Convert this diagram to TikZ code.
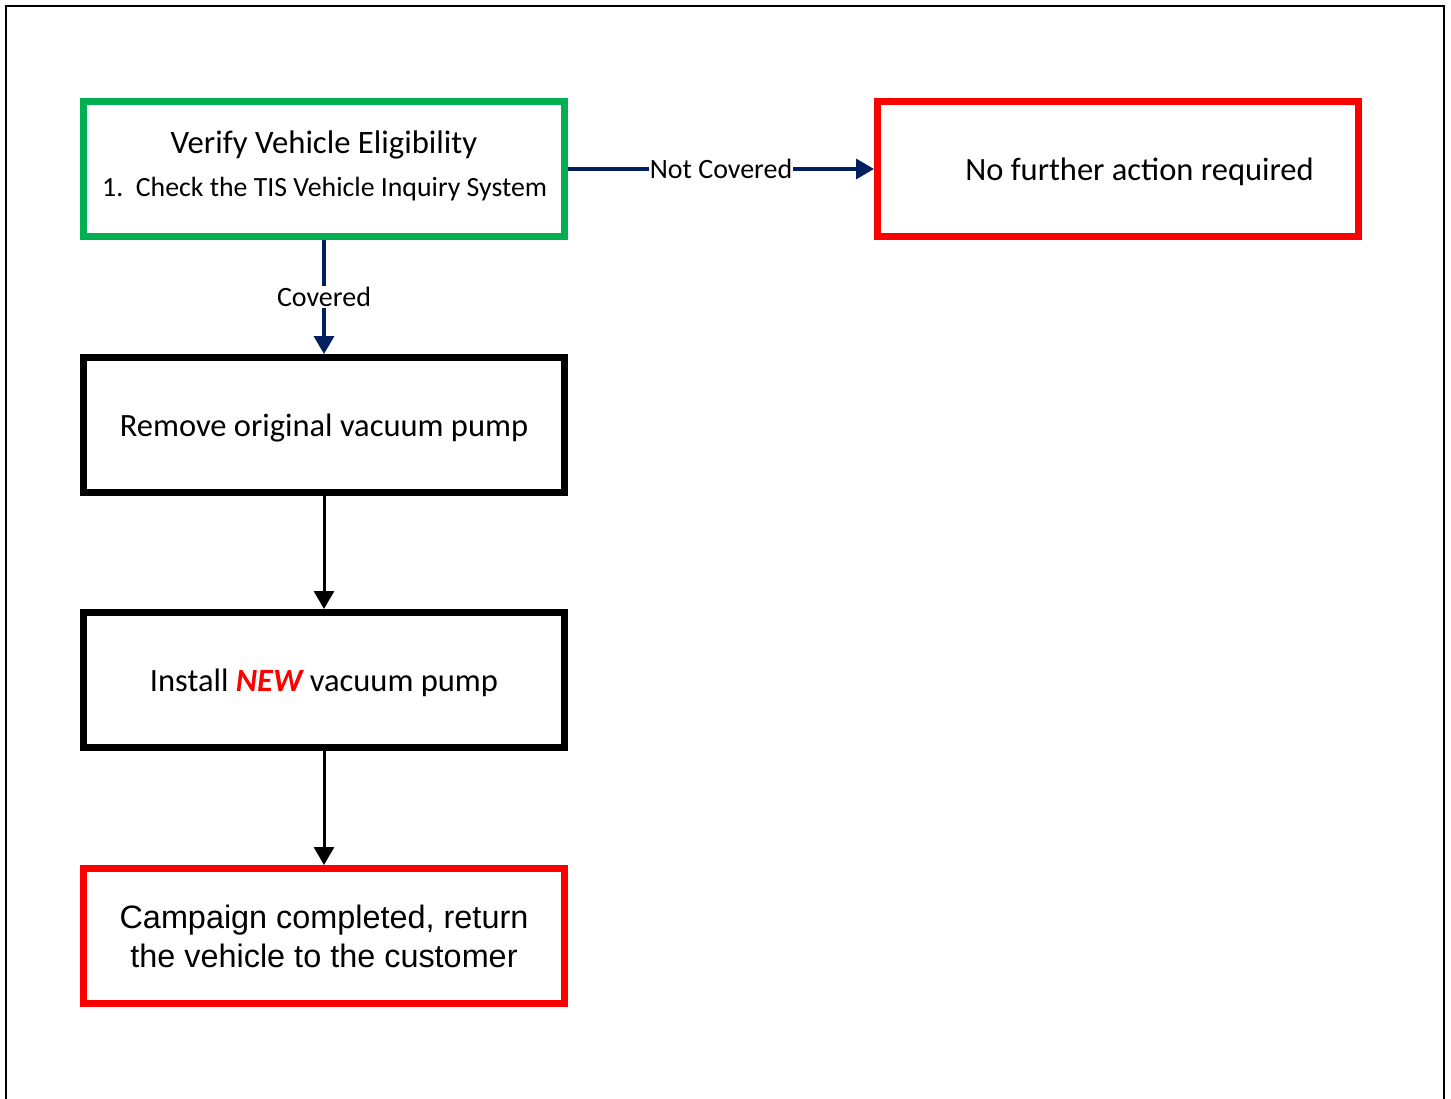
\documentclass[tikz,border=0pt]{standalone}
\usepackage{fontspec}
\setmainfont{Carlito}
\newfontfamily\arialfont{Liberation Sans}
\usetikzlibrary{arrows.meta}
\definecolor{boxgreen}{HTML}{00B050}
\definecolor{boxred}{HTML}{FF0000}
\definecolor{navy}{HTML}{002060}
\newcommand{\lowertext}[1]{\raisebox{-3pt}[\height][\depth]{#1}}
\begin{document}
\begin{tikzpicture}[x=1pt,y=-1pt,
  flowbox/.style={draw,line width=7pt,minimum width=481pt,minimum height=135pt,inner sep=0pt,align=center,font=\fontsize{32.5}{39}\selectfont},
  greenbox/.style={flowbox,draw=boxgreen},
  redbox/.style={flowbox,draw=boxred},
  blackbox/.style={flowbox,draw=black},
  navyarrow/.style={draw=navy,line width=3.5pt,-{Triangle[width=20pt,length=18pt]}},
  blackarrow/.style={draw=black,line width=3pt,-{Triangle[width=20pt,length=18pt]}},
  lbl/.style={fill=white,inner sep=1pt,font=\fontsize{28}{32}\selectfont}]
\useasboundingbox (0,0) rectangle (1451,1099);
\draw[line width=2pt] (6,1100) -- (6,6) -- (1444,6) -- (1444,1100);
\node[greenbox] (verify) at (324,169) {};
\node (title) at (324,145) {\fontsize{32.7}{36}\selectfont Verify Vehicle Eligibility};
\node[anchor=west,inner sep=0pt] (step1) at (102,189) {\fontsize{27.8}{32}\selectfont 1.\ \ Check the TIS Vehicle Inquiry System};
\node[redbox] (nofurther) at (1118,169) {\lowertext{\hspace*{43pt}No further action required}};
\node[blackbox] (remove) at (324,425) {\lowertext{Remove original vacuum pump}};
\node[blackbox] (install) at (324,680) {\lowertext{Install {\color{boxred}\bfseries\itshape NEW} vacuum pump}};
\node[redbox,font=\arialfont\fontsize{32.4}{39}\selectfont] (campaign) at (324,936) {Campaign completed, return\\the vehicle to the customer};
\draw[navyarrow] (verify.east) -- node[lbl] {Not Covered} (nofurther.west);
\draw[navyarrow] (verify.south) -- node[lbl] {Covered} (remove.north);
\draw[blackarrow] (remove.south) -- (install.north);
\draw[blackarrow] (install.south) -- (campaign.north);
\end{tikzpicture}
\end{document}
